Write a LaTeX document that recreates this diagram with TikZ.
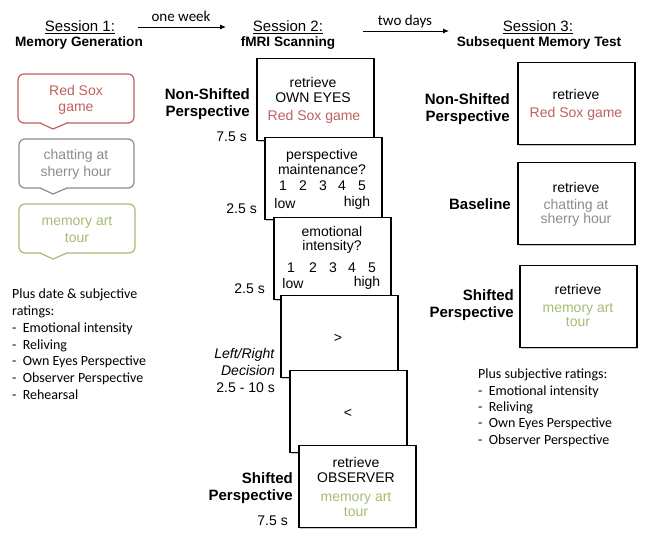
\documentclass[tikz,border=0pt]{standalone}
\usepackage{fontspec}
\setmainfont{Liberation Sans}
\newfontfamily\calfont{Carlito}
\usetikzlibrary{shadows,arrows.meta}
\definecolor{sred}{RGB}{192,96,96}
\definecolor{sgray}{RGB}{140,140,140}
\definecolor{sgreen}{RGB}{165,190,115}
\tikzset{
 txt/.style={inner sep=0pt, font=\fontsize{14}{14.5}\selectfont, align=center},
 lbl/.style={inner sep=0pt, font=\bfseries\fontsize{15}{17}\selectfont, align=right, anchor=east},
 tm/.style={inner sep=0pt, font=\fontsize{14}{17}\selectfont, align=right, anchor=east},
 card/.style={draw, line width=1.5pt, fill=white, minimum width=117pt, minimum height=82pt, anchor=north west, inner sep=0pt, drop shadow={shadow xshift=1.4pt, shadow yshift=-1.4pt, opacity=0.45}},
 bub/.style={line width=1.2pt, rounded corners=6pt, line join=round, line cap=round},
 lst/.style={inner sep=0pt, font=\calfont\fontsize{14}{16}\selectfont, anchor=base west},
 hdr/.style={inner sep=0pt, font=\fontsize{15}{17}\selectfont, anchor=base},
 sub/.style={inner sep=0pt, font=\bfseries\fontsize{13.6}{16}\selectfont, anchor=base},
 arr/.style={-{Latex[length=6pt,width=5pt]}, line width=0.9pt},
 gap/.style={inner sep=0pt, font=\calfont\fontsize{15}{16}\selectfont, anchor=base},
}
\begin{document}
\begin{tikzpicture}[x=1pt,y=-1pt]
\useasboundingbox (0,0) rectangle (649,545);
\fill[white] (0,0) rectangle (649,545);

% headers
\node[hdr] (h1) at (80,31.5) {\underline{Session 1:}};
\node[sub] (h1s) at (79,47) {Memory Generation};
\node[hdr] (h2) at (288,31.5) {\underline{Session 2:}};
\node[sub] (h2s) at (288,47) {fMRI Scanning};
\node[hdr] (h3) at (538,31.5) {\underline{Session 3:}};
\node[sub] (h3s) at (539,47) {Subsequent Memory Test};

% arrows between sessions
\coordinate (ow1) at (138,27);
\coordinate (ow2) at (226,27);
\draw[arr] (ow1) -- (ow2);
\node[gap] (owl) at (181,22) {one week};
\coordinate (td1) at (363,31);
\coordinate (td2) at (449,31);
\draw[arr] (td1) -- (td2);
\node[gap] (tdl) at (405,25.5) {two days};

% speech bubbles
\draw[bub, sred] (40,123) -- (18,123) -- (18,74) -- (134,74) -- (134,123) -- (67,123);
\draw[line width=1.2pt, sred, line join=round, line cap=round] (67,123) -- (53,129) -- (40,123);
\node[txt, sred, font=\fontsize{14}{16}\selectfont] (b1) at (76,100) {Red Sox\\game};

\draw[bub, sgray] (40,188) -- (19,188) -- (19,139) -- (134,139) -- (134,188) -- (67,188);
\draw[line width=1.2pt, sgray, line join=round, line cap=round] (67,188) -- (53,194) -- (40,188);
\node[txt, sgray, font=\fontsize{14}{17}\selectfont] (b2) at (76,164.5) {chatting at\\sherry hour};

\draw[bub, sgreen] (40,253) -- (19,253) -- (19,204) -- (135,204) -- (135,253) -- (67,253);
\draw[line width=1.2pt, sgreen, line join=round, line cap=round] (67,253) -- (53,259) -- (40,253);
\node[txt, sgreen, font=\fontsize{14}{17}\selectfont] (b3) at (77,229.5) {memory art\\tour};

% left list
\node[lst] (l1) at (12,299) {Plus date \& subjective};
\node[lst] (l2) at (12,315.7) {ratings:};
\node[lst] (l3) at (12,332.4) {-\ \ Emotional intensity};
\node[lst] (l4) at (12,349.1) {-\ \ Reliving};
\node[lst] (l5) at (12,365.8) {-\ \ Own Eyes Perspective};
\node[lst] (l6) at (12,382.5) {-\ \ Observer Perspective};
\node[lst] (l7) at (12,399.2) {-\ \ Rehearsal};

% session 2 cards
\node[card] (s2a) at (256,58) {};
\node[txt] (s2a1) at (313,90) {retrieve\\OWN EYES};
\node[txt, sred] (s2a2) at (314,117) {Red Sox game};

\node[card] (s2b) at (264,137) {};
\node[txt] (s2b1) at (322,162) {perspective\\maintenance?};
\foreach \i/\x in {1/283,2/303,3/323,4/342,5/362}
  \node[txt] (s2bn\i) at (\x,186) {\i};
\node[txt] (s2blo) at (285,203) {low};
\node[txt] (s2bhi) at (357,203) {high};

\node[card] (s2c) at (273,217) {};
\node[txt] (s2c1) at (332,240) {emotional\\intensity?};
\foreach \i/\x in {1/291,2/313,3/333,4/352,5/372}
  \node[txt] (s2cn\i) at (\x,268) {\i};
\node[txt] (s2clo) at (293,283) {low};
\node[txt] (s2chi) at (367,283) {high};

\node[card] (s2d) at (280,295) {};
\node[txt] (s2d1) at (338,338) {>};

\node[card] (s2e) at (289,370) {};
\node[txt] (s2e1) at (348,413) {<};

\node[card] (s2f) at (298,445) {};
\node[txt] (s2f1) at (356,470) {retrieve\\OBSERVER};
\node[txt, sgreen] (s2f2) at (356,504.5) {memory art\\tour};

% session 2 labels
\node[lbl] (ns2) at (250,104.5) {Non-Shifted\\Perspective};
\node[tm] (t1) at (247,137) {7.5 s};
\node[tm] (t2) at (257,209) {2.5 s};
\node[tm] (t3) at (265,289) {2.5 s};
\node[tm] (t4) at (275,370) {\textit{Left/Right}\\\textit{Decision}\\2.5 - 10 s};
\node[lbl] (sh2) at (293,488.5) {Shifted\\Perspective};
\node[tm] (t5) at (288,521) {7.5 s};

% session 3 cards
\node[card] (s3a) at (517,62) {};
\node[txt] (s3a1) at (576,94) {retrieve};
\node[txt, sred] (s3a2) at (576,114) {Red Sox game};

\node[card] (s3b) at (517,162) {};
\node[txt] (s3b1) at (576,187) {retrieve};
\node[txt, sgray, font=\fontsize{14}{13}\selectfont] (s3b2) at (576,212.5) {chatting at\\sherry hour};

\node[card] (s3c) at (519,265) {};
\node[txt] (s3c1) at (578,289) {retrieve};
\node[txt, sgreen] (s3c2) at (578,315) {memory art\\tour};

\node[lbl] (ns3) at (510,109) {Non-Shifted\\Perspective};
\node[lbl] (bl3) at (511,204) {Baseline};
\node[lbl] (sh3) at (514,305) {Shifted\\Perspective};

% right list
\node[lst] (r1) at (478,379) {Plus subjective ratings:};
\node[lst] (r2) at (478,395.3) {-\ \ Emotional intensity};
\node[lst] (r3) at (478,411.6) {-\ \ Reliving};
\node[lst] (r4) at (478,427.9) {-\ \ Own Eyes Perspective};
\node[lst] (r5) at (478,444.2) {-\ \ Observer Perspective};
\end{tikzpicture}
\end{document}
